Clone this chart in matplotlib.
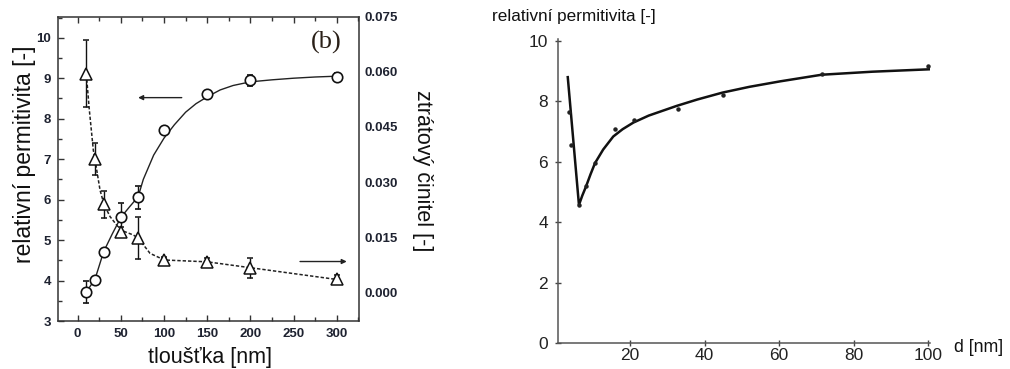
import matplotlib
matplotlib.use("Agg")
import matplotlib.pyplot as plt
from matplotlib.ticker import MultipleLocator, FixedLocator

plt.rcParams['font.family'] = ['Liberation Sans', 'DejaVu Sans']

# ---------------- data: left panel ----------------
thickness = [10, 20, 30, 50, 70, 100, 150, 200, 300]
permittivity = [3.72, 4.02, 4.70, 5.56, 6.06, 7.72, 8.62, 8.95, 9.04]
permittivity_err = [0.27, 0.05, 0.05, 0.35, 0.28, 0.05, 0.06, 0.14, 0.08]
loss = [0.0595, 0.0362, 0.0239, 0.0165, 0.0147, 0.0087, 0.0083, 0.0066, 0.0035]
loss_err = [0.0092, 0.0043, 0.0038, 0.0013, 0.0057, 0.0008, 0.0010, 0.0028, 0.0012]

perm_fit_x = [10, 20, 30, 40, 50, 60, 70, 76, 88, 100, 112, 125, 137, 150, 165, 180, 200, 225, 250, 275, 300]
perm_fit_y = [3.72, 4.03, 4.71, 5.15, 5.56, 5.82, 6.07, 6.50, 7.10, 7.52, 7.85, 8.16, 8.37,
              8.54, 8.71, 8.82, 8.91, 8.96, 9.00, 9.03, 9.05]
loss_fit_x = [10, 13.5, 18.1, 20, 25.9, 30.5, 37.5, 45.2, 50.2, 64.5, 70.3, 83.8, 100.4, 150, 200, 300]
loss_fit_y = [0.0594, 0.0496, 0.0387, 0.0362, 0.0278, 0.0239, 0.0206, 0.0183, 0.0169,
              0.0156, 0.0147, 0.0106, 0.0088, 0.0083, 0.0067, 0.0035]

left_xticks = [0, 50, 100, 150, 200, 250, 300]
left_yticks = [3, 4, 5, 6, 7, 8, 9, 10]
right_yticks = [0.000, 0.015, 0.030, 0.045, 0.060, 0.075]
right_yticklabels = ['0.000', '0.015', '0.030', '0.045', '0.060', '0.075']

# ---------------- data: right panel ----------------
d_curve = [3.3, 6.3, 7.2, 8.2, 9.4, 10.6, 12.8, 15.5, 18.0, 20.9, 25.0, 32.5, 38.0,
           44.8, 52.0, 60.2, 71.4, 85.0, 100.4]
eps_curve = [8.79, 4.57, 4.88, 5.18, 5.58, 5.95, 6.40, 6.83, 7.07, 7.29, 7.52, 7.84, 8.05,
             8.28, 8.47, 8.65, 8.87, 8.97, 9.05]
d_points = [3.5, 4.2, 6.3, 8.2, 10.6, 16.0, 21.1, 32.8, 44.8, 71.4, 100.0]
eps_points = [7.65, 6.55, 4.57, 5.18, 5.97, 7.08, 7.36, 7.73, 8.21, 8.90, 9.16]
right_xticks = [20, 40, 60, 80, 100]
right_yticks_b = [0, 2, 4, 6, 8, 10]

W, H = 1010, 369
fig = plt.figure(figsize=(W / 100, H / 100), dpi=100)

# ================= left panel =================
L, R, T, B = 58, 359, 16.7, 321
ax = fig.add_axes([L / W, 1 - B / H, (R - L) / W, (B - T) / H])
ax.set_xlim(-22.8, 325.8)
ax.set_ylim(3, 10.52)
tick_color = '#1e2230'
frame_color = '#333333'
for s in ax.spines.values():
    s.set_color(frame_color)
    s.set_linewidth(1.1)

ax.plot(perm_fit_x, perm_fit_y, color='#222222', lw=1.0, zorder=2)
ax.errorbar(thickness, permittivity, yerr=permittivity_err, fmt='o', ms=7.5,
            mfc='white', mec='#111111', mew=1.2, ecolor='#111111', elinewidth=1.0,
            capsize=2.2, capthick=1.0, zorder=3)

ax.xaxis.set_major_locator(FixedLocator(left_xticks))
ax.xaxis.set_minor_locator(MultipleLocator(25))
ax.yaxis.set_major_locator(FixedLocator(left_yticks))
ax.yaxis.set_minor_locator(MultipleLocator(0.5))
ax.tick_params(which='both', direction='in', top=True, right=True,
               color=frame_color, width=1.0)
ax.tick_params(which='major', length=4.5)
ax.tick_params(which='minor', length=3)
ax.tick_params(axis='x', pad=5)
ax.tick_params(axis='y', pad=5)
for lab in ax.get_xticklabels() + ax.get_yticklabels():
    lab.set_fontsize(9.5)
    lab.set_fontweight('bold')
    lab.set_color(tick_color)

ax2 = ax.twinx()
ax2.set_ylim(-0.0078, 0.075)
ax2.set_yticks(right_yticks)
ax2.set_yticklabels(right_yticklabels)
ax2.tick_params(axis='y', length=0, pad=4)
for lab in ax2.get_yticklabels():
    lab.set_fontsize(9.5)
    lab.set_fontweight('bold')
    lab.set_color(tick_color)
for s in ax2.spines.values():
    s.set_visible(False)

ax2.plot(loss_fit_x, loss_fit_y, color='#222222', lw=1.1, ls=(0, (2.2, 1.3)), zorder=2)
ax2.errorbar(thickness, loss, yerr=loss_err, fmt='^', ms=8,
             mfc='white', mec='#111111', mew=1.1, ecolor='#111111', elinewidth=1.0,
             capsize=2.2, capthick=1.0, zorder=3)

ax.annotate('', xy=(70, 8.52), xytext=(120.5, 8.52),
            arrowprops=dict(arrowstyle='-|>', color='#222222', lw=1.0,
                            mutation_scale=7, shrinkA=0, shrinkB=0))
ax.annotate('', xy=(311.6, 4.47), xytext=(257.5, 4.47),
            arrowprops=dict(arrowstyle='-|>', color='#222222', lw=1.0,
                            mutation_scale=7, shrinkA=0, shrinkB=0))

fig.text(326 / W, 1 - 42 / H, '(b)', family=['Liberation Serif', 'DejaVu Serif'],
         fontsize=19, color='#2a2018', ha='center', va='center')

fig.text(25 / W, 1 - 154 / H, 'relativní permitivita [-]', rotation=90,
         fontsize=16.5, color='#111111', ha='center', va='center')
fig.text(423 / W, 1 - 171 / H, 'ztrátový činitel [-]', rotation=270,
         fontsize=15.5, color='#111111', ha='center', va='center')
fig.text(210 / W, 1 - 357 / H, 'tloušťka [nm]',
         fontsize=15.5, color='#111111', ha='center', va='center')

# ================= right panel =================
L2, R2 = 557.7, 930.0
B2 = 343.3
T2 = 39.0
ax3 = fig.add_axes([L2 / W, 1 - B2 / H, (R2 - L2) / W, (B2 - T2) / H])
ax3.set_xlim(0.6, 100.45)
ax3.set_ylim(0, 10.05)
for side in ('top', 'right'):
    ax3.spines[side].set_visible(False)
for side in ('left', 'bottom'):
    ax3.spines[side].set_color('#555555')
    ax3.spines[side].set_linewidth(1.1)
ax3.plot(d_curve, eps_curve, color='#111111', lw=1.8, zorder=2)
ax3.plot(d_points, eps_points, ls='none', marker='o', ms=2.2, color='#222222', zorder=3)
ax3.set_xticks(right_xticks)
ax3.set_yticks(right_yticks_b)
ax3.tick_params(direction='inout', length=4, width=1.0, color='#444444',
                labelsize=12.5, labelcolor='#222222')
ax3.tick_params(axis='x', pad=1.5)
ax3.tick_params(axis='y', pad=5)

fig.text(492 / W, 1 - 17 / H, 'relativní permitivita [-]', fontsize=12.3,
         color='#111111', ha='left', va='center')
fig.text(954 / W, 1 - 347 / H, 'd [nm]', fontsize=12.8,
         color='#111111', ha='left', va='center')

fig.savefig('out.png', dpi=100)
